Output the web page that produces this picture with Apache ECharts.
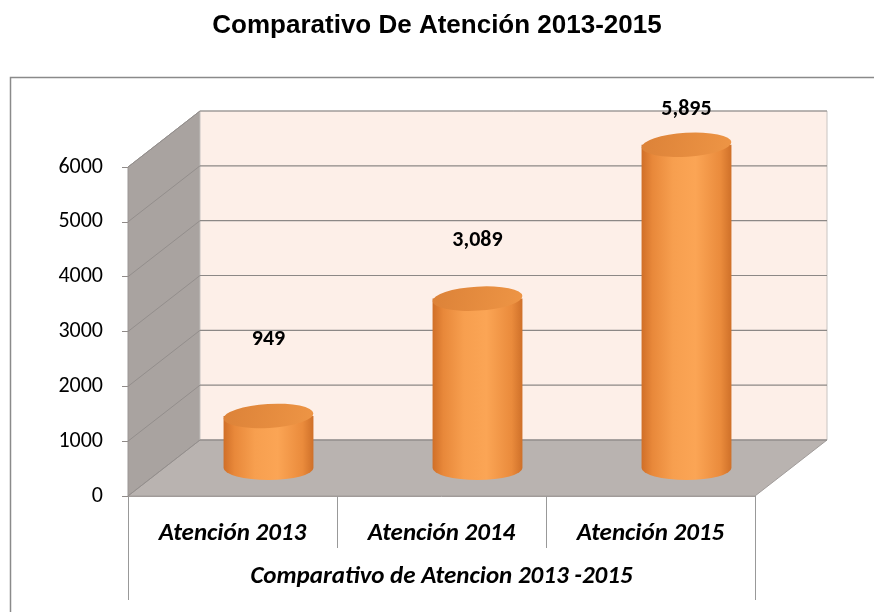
<html>
  <head>
    <script src="https://cdn.jsdelivr.net/npm/echarts@6.0.0/dist/echarts.min.js"></script>
    <title>Comparativo De Atención 2013-2015</title>
  </head>
  <body style="margin:0; background-color:#ffffff;">
    <div id="chart" style="width:874px; height:612px;"></div>
    <script>
      const categories = ['Atención 2013', 'Atención 2014', 'Atención 2015'];
      const values = [949, 3089, 5895];
      const groupLabel = ['Comparativo de Atencion 2013 -2015'];
      const yMax = 6000;
      const yStep = 1000;

      // depth of the fake 3d box (pixels)
      const depthX = 72;
      const depthY = -56;
      const labelFont = 'Carlito, Lato, "Open Sans", sans-serif';

      const chart = echarts.init(document.getElementById('chart'));

      function renderWalls(params, api) {
        const cs = params.coordSys;
        const x0 = cs.x, x1 = cs.x + cs.width;
        const yTop = cs.y, yBot = cs.y + cs.height;
        const children = [];
        // left wall
        children.push({
          type: 'polygon',
          shape: { points: [[x0, yBot], [x0, yTop], [x0 + depthX, yTop + depthY], [x0 + depthX, yBot + depthY]] },
          style: { fill: '#a9a3a0', stroke: '#9b9694', lineWidth: 1 }
        });
        // back wall
        children.push({
          type: 'rect',
          shape: { x: x0 + depthX, y: yTop + depthY, width: cs.width, height: cs.height },
          style: { fill: '#fdefe8', stroke: '#c8c4c2', lineWidth: 1 }
        });
        // floor
        children.push({
          type: 'polygon',
          shape: { points: [[x0, yBot], [x1, yBot], [x1 + depthX, yBot + depthY], [x0 + depthX, yBot + depthY]] },
          style: { fill: '#b9b3b0', stroke: '#a19c9a', lineWidth: 1 }
        });
        for (let v = 0; v <= yMax; v += yStep) {
          const y = api.coord([0, v])[1];
          children.push({
            type: 'line',
            shape: { x1: x0, y1: y, x2: x0 + depthX, y2: y + depthY },
            style: { stroke: '#938e8c', lineWidth: 1 }
          });
          children.push({
            type: 'line',
            shape: { x1: x0 + depthX, y1: y + depthY, x2: x1 + depthX, y2: y + depthY },
            style: { stroke: '#8c8886', lineWidth: 1.2 }
          });
        }
        return { type: 'group', children: children };
      }

      function renderCylinder(params, api) {
        const base = api.coord([api.value(0), 0]);
        const top = api.coord([api.value(0), api.value(1)]);
        const rx = api.size([1, 0])[0] * 0.215;
        const ry = 12;
        const cx = base[0] + depthX / 2;
        const by = base[1] + depthY / 2;
        const ty = top[1] + depthY / 2;
        const h = by - ty;
        const body = 'M' + (cx - rx) + ' ' + ty + ' L' + (cx - rx) + ' ' + by +
          ' A' + rx + ' ' + ry + ' 0 0 0 ' + (cx + rx) + ' ' + by +
          ' L' + (cx + rx) + ' ' + ty + ' Z';
        const cap = 'M' + (cx - rx) + ' ' + ty +
          ' A' + rx + ' ' + ry + ' 0 1 0 ' + (cx + rx) + ' ' + ty +
          ' A' + rx + ' ' + ry + ' 0 1 0 ' + (cx - rx) + ' ' + ty + ' Z';
        return {
          type: 'group',
          children: [
            {
              type: 'path',
              shape: { pathData: body },
              style: {
                fill: new echarts.graphic.LinearGradient(0, 0, 1, 0, [
                  { offset: 0, color: '#d06f28' },
                  { offset: 0.12, color: '#e8883a' },
                  { offset: 0.35, color: '#f79f4f' },
                  { offset: 0.6, color: '#fba555' },
                  { offset: 0.88, color: '#ea8b3c' },
                  { offset: 1, color: '#cf7029' }
                ])
              }
            },
            {
              type: 'path',
              shape: { pathData: cap },
              rotation: 0.06,
              originX: cx,
              originY: ty,
              style: {
                fill: new echarts.graphic.LinearGradient(0, 0, 1, 1, [
                  { offset: 0, color: '#dc8238' },
                  { offset: 1, color: '#ee9545' }
                ])
              }
            },
            {
              type: 'text',
              x: cx,
              y: ty - 84 + 0.151 * h,
              style: {
                text: api.value(1).toLocaleString('en-US'),
                fill: '#000',
                font: 'bold 22px ' + labelFont,
                align: 'center',
                verticalAlign: 'middle'
              }
            }
          ]
        };
      }

      const option = {
        backgroundColor: '#ffffff',
        animation: false,
        title: {
          text: 'Comparativo De Atención 2013-2015',
          left: 'center',
          top: 8,
          textStyle: { fontSize: 26, fontWeight: 'bold', color: '#000', fontFamily: '"Liberation Sans", Arial, sans-serif' }
        },
        graphic: [
          {
            type: 'rect',
            left: 8,
            top: 75,
            z: -10,
            shape: { width: 900, height: 600 },
            style: { fill: 'none', stroke: '#8a8a8a', lineWidth: 1.5 }
          }
        ],
        grid: { left: 128, right: 119, top: 167, bottom: 116 },
        xAxis: [
          {
            type: 'category',
            data: categories,
            position: 'bottom',
            axisLine: { show: true, lineStyle: { color: '#a09b99' } },
            axisTick: { show: true, length: 52, lineStyle: { color: '#999' } },
            axisLabel: { margin: 25, fontSize: 25, fontWeight: 'bold', fontStyle: 'italic', color: '#000', fontFamily: labelFont },
            splitLine: { show: false }
          },
          {
            type: 'category',
            data: groupLabel,
            position: 'bottom',
            axisLine: { show: false },
            axisTick: { show: true, length: 104, lineStyle: { color: '#999' } },
            axisLabel: { margin: 68, fontSize: 25, fontWeight: 'bold', fontStyle: 'italic', color: '#000', fontFamily: labelFont },
            splitLine: { show: false }
          }
        ],
        yAxis: {
          type: 'value',
          min: 0,
          max: yMax,
          interval: yStep,
          axisLine: { show: true, lineStyle: { color: '#8f8a88' } },
          axisTick: { show: true, length: 6, lineStyle: { color: '#8f8a88' } },
          axisLabel: { margin: 25, fontSize: 22, color: '#000', fontFamily: labelFont, formatter: v => String(v) },
          splitLine: { show: false }
        },
        series: [
          {
            type: 'custom',
            name: 'walls',
            renderItem: renderWalls,
            data: [[0, 0]],
            z: 1,
            silent: true
          },
          {
            type: 'custom',
            name: 'Atención',
            renderItem: renderCylinder,
            data: categories.map((c, i) => [i, values[i]]),
            encode: { x: 0, y: 1 },
            z: 3
          }
        ]
      };

      chart.setOption(option);
    </script>
  </body>
</html>
